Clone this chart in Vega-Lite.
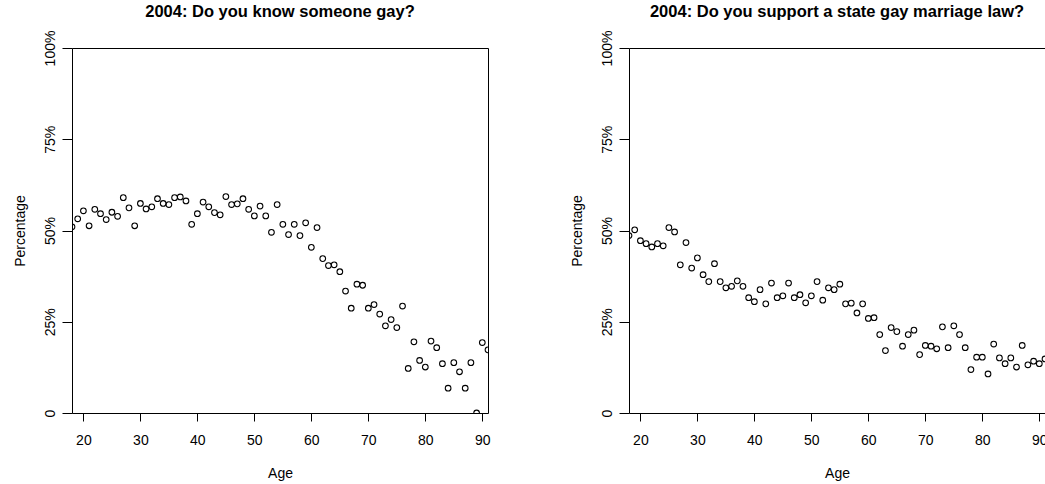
{
  "$schema": "https://vega.github.io/schema/vega-lite/v6.json",
  "autosize": {"type": "pad"},
  "padding": {"left": 12, "top": 3, "right": 0, "bottom": 0},
  "background": "white",
  "config": {
    "font": "Liberation Sans",
    "view": {"stroke": "black", "strokeWidth": 1},
    "axis": {
      "domain": false,
      "grid": false,
      "tickColor": "black",
      "tickWidth": 1,
      "labelColor": "black",
      "titleColor": "black",
      "labelFont": "Liberation Sans",
      "titleFont": "Liberation Sans",
      "labelFontSize": 14,
      "titleFontSize": 14,
      "titleFontWeight": "normal"
    },
    "title": {"font": "Liberation Sans", "fontSize": 16.5, "fontWeight": "bold", "color": "black", "offset": 10}
  },
  "datasets": {
    "poll": [
      {"age": 18, "know": 51.0, "support": 48.6},
      {"age": 19, "know": 53.2, "support": 50.2},
      {"age": 20, "know": 55.4, "support": 47.2},
      {"age": 21, "know": 51.3, "support": 46.4},
      {"age": 22, "know": 55.8, "support": 45.5},
      {"age": 23, "know": 54.6, "support": 46.4},
      {"age": 24, "know": 53.0, "support": 45.8},
      {"age": 25, "know": 55.0, "support": 50.8},
      {"age": 26, "know": 53.9, "support": 49.6},
      {"age": 27, "know": 59.0, "support": 40.6},
      {"age": 28, "know": 56.2, "support": 46.7},
      {"age": 29, "know": 51.3, "support": 39.7},
      {"age": 30, "know": 57.4, "support": 42.5},
      {"age": 31, "know": 55.9, "support": 37.9},
      {"age": 32, "know": 56.5, "support": 36.0},
      {"age": 33, "know": 58.7, "support": 40.9},
      {"age": 34, "know": 57.4, "support": 36.0},
      {"age": 35, "know": 57.1, "support": 34.3},
      {"age": 36, "know": 59.0, "support": 34.7},
      {"age": 37, "know": 59.2, "support": 36.2},
      {"age": 38, "know": 58.1, "support": 34.7},
      {"age": 39, "know": 51.7, "support": 31.6},
      {"age": 40, "know": 54.6, "support": 30.5},
      {"age": 41, "know": 57.8, "support": 33.8},
      {"age": 42, "know": 56.5, "support": 29.9},
      {"age": 43, "know": 54.9, "support": 35.6},
      {"age": 44, "know": 54.3, "support": 31.6},
      {"age": 45, "know": 59.3, "support": 32.1},
      {"age": 46, "know": 57.1, "support": 35.6},
      {"age": 47, "know": 57.3, "support": 31.6},
      {"age": 48, "know": 58.7, "support": 32.4},
      {"age": 49, "know": 55.8, "support": 30.2},
      {"age": 50, "know": 54.0, "support": 32.1},
      {"age": 51, "know": 56.7, "support": 36.0},
      {"age": 52, "know": 54.0, "support": 30.9},
      {"age": 53, "know": 49.5, "support": 34.3},
      {"age": 54, "know": 57.1, "support": 33.8},
      {"age": 55, "know": 51.7, "support": 35.3},
      {"age": 56, "know": 48.9, "support": 29.9},
      {"age": 57, "know": 51.7, "support": 30.1},
      {"age": 58, "know": 48.6, "support": 27.4},
      {"age": 59, "know": 52.1, "support": 29.9},
      {"age": 60, "know": 45.4, "support": 25.9},
      {"age": 61, "know": 50.8, "support": 26.1},
      {"age": 62, "know": 42.3, "support": 21.5},
      {"age": 63, "know": 40.4, "support": 17.1},
      {"age": 64, "know": 40.6, "support": 23.4},
      {"age": 65, "know": 38.7, "support": 22.3},
      {"age": 66, "know": 33.4, "support": 18.3},
      {"age": 67, "know": 28.7, "support": 21.5},
      {"age": 68, "know": 35.3, "support": 22.7},
      {"age": 69, "know": 35.0, "support": 16.0},
      {"age": 70, "know": 28.7, "support": 18.5},
      {"age": 71, "know": 29.7, "support": 18.3},
      {"age": 72, "know": 27.1, "support": 17.6},
      {"age": 73, "know": 23.9, "support": 23.6},
      {"age": 74, "know": 25.6, "support": 17.9},
      {"age": 75, "know": 23.4, "support": 23.9},
      {"age": 76, "know": 29.3, "support": 21.5},
      {"age": 77, "know": 12.2, "support": 17.9},
      {"age": 78, "know": 19.5, "support": 11.9},
      {"age": 79, "know": 14.4, "support": 15.3},
      {"age": 80, "know": 12.6, "support": 15.3},
      {"age": 81, "know": 19.7, "support": 10.7},
      {"age": 82, "know": 17.9, "support": 18.9},
      {"age": 83, "know": 13.5, "support": 15.1},
      {"age": 84, "know": 6.8, "support": 13.5},
      {"age": 85, "know": 13.8, "support": 15.1},
      {"age": 86, "know": 11.3, "support": 12.6},
      {"age": 87, "know": 6.8, "support": 18.5},
      {"age": 88, "know": 13.8, "support": 13.2},
      {"age": 89, "know": 0.0, "support": 14.2},
      {"age": 90, "know": 19.3, "support": 13.5},
      {"age": 91, "know": 17.3, "support": 14.8}
    ]
  },
  "spacing": 78,
  "hconcat": [
    {
      "title": "2004: Do you know someone gay?",
      "width": 416,
      "height": 365,
      "data": {"name": "poll"},
      "mark": {"type": "point", "shape": "circle", "filled": false, "color": "black", "size": 32, "strokeWidth": 1.1, "opacity": 1, "clip": true},
      "encoding": {
        "x": {"field": "age", "type": "quantitative", "title": "Age",
              "scale": {"domain": [18, 91], "nice": false, "zero": false},
              "axis": {"values": [20, 30, 40, 50, 60, 70, 80, 90], "tickSize": 8, "labelPadding": 12, "titlePadding": 19, "labelFlush": false}},
        "y": {"field": "know", "type": "quantitative", "title": "Percentage",
              "scale": {"domain": [0, 100], "nice": false},
              "axis": {"values": [0, 25, 50, 75, 100], "tickSize": 10, "labelPadding": 5, "labelAngle": -90, "labelAlign": "center", "labelBaseline": "bottom", "titlePadding": 16, "labelFlush": false,
                       "labelExpr": "datum.value == 0 ? '0' : datum.value + '%'"}}
      }
    },
    {
      "title": "2004: Do you support a state gay marriage law?",
      "width": 416,
      "height": 365,
      "data": {"name": "poll"},
      "mark": {"type": "point", "shape": "circle", "filled": false, "color": "black", "size": 32, "strokeWidth": 1.1, "opacity": 1, "clip": true},
      "encoding": {
        "x": {"field": "age", "type": "quantitative", "title": "Age",
              "scale": {"domain": [18, 91], "nice": false, "zero": false},
              "axis": {"values": [20, 30, 40, 50, 60, 70, 80, 90], "tickSize": 8, "labelPadding": 12, "titlePadding": 19, "labelFlush": false}},
        "y": {"field": "support", "type": "quantitative", "title": "Percentage",
              "scale": {"domain": [0, 100], "nice": false},
              "axis": {"values": [0, 25, 50, 75, 100], "tickSize": 10, "labelPadding": 5, "labelAngle": -90, "labelAlign": "center", "labelBaseline": "bottom", "titlePadding": 16, "labelFlush": false,
                       "labelExpr": "datum.value == 0 ? '0' : datum.value + '%'"}}
      }
    }
  ]
}
